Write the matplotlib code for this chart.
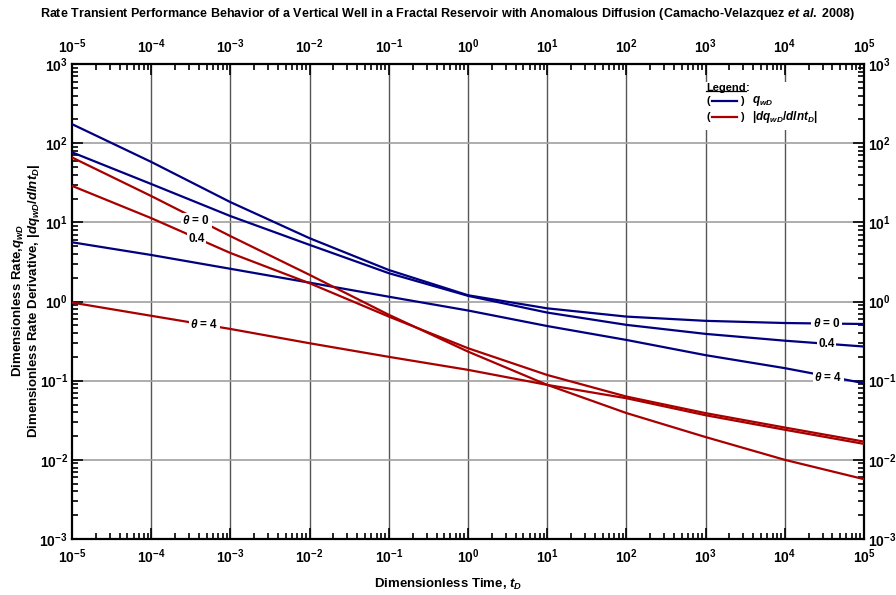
import math
import matplotlib
matplotlib.use("Agg")
import matplotlib.pyplot as plt
from matplotlib.ticker import LogLocator, FuncFormatter, NullFormatter
from matplotlib.patches import Rectangle

plt.rcParams['font.family'] = ['Liberation Sans', 'DejaVu Sans']
plt.rcParams['mathtext.fontset'] = 'custom'
plt.rcParams['mathtext.rm'] = 'Liberation Sans:bold'
plt.rcParams['mathtext.bf'] = 'Liberation Sans:bold'
plt.rcParams['mathtext.it'] = 'Liberation Sans:bold:italic'
plt.rcParams['mathtext.bfit'] = 'Liberation Sans:bold:italic'

# dimensionless time (one point per decade)
t_d = [1e-5, 1e-4, 1e-3, 1e-2, 1e-1, 1e0, 1e1, 1e2, 1e3, 1e4, 1e5]

# dimensionless rate q_wD
q_theta0 = [174, 58, 18, 6.3, 2.5, 1.2, 0.82, 0.645, 0.57, 0.535, 0.52]
q_theta04 = [76.7, 30.5, 12, 5.19, 2.28, 1.18, 0.725, 0.507, 0.39, 0.32, 0.27]
q_theta4 = [5.6, 3.87, 2.59, 1.73, 1.15, 0.77, 0.49, 0.327, 0.21, 0.144, 0.093]

# rate derivative |dq_wD/dln t_D|
d_theta0 = [66, 21.5, 6.7, 2.17, 0.68, 0.233, 0.0885, 0.039, 0.0194, 0.010, 0.0057]
d_theta04 = [28.9, 11.3, 4.1, 1.70, 0.645, 0.257, 0.118, 0.063, 0.0389, 0.0256, 0.017]
d_theta4 = [0.97, 0.66, 0.45, 0.297, 0.20, 0.137, 0.0885, 0.060, 0.0366, 0.024, 0.0159]

blue = '#000080'
red = '#a80000'

fig = plt.figure(figsize=(8.96, 5.95), dpi=100)
ax = fig.add_axes([0.0804, 0.0941, 0.8839, 0.7983])

for q in (q_theta0, q_theta04, q_theta4):
    ax.plot(t_d, q, color=blue, lw=1.6, zorder=4)
for d in (d_theta0, d_theta04, d_theta4):
    ax.plot(t_d, d, color=red, lw=1.6, zorder=4)

ax.set_xscale('log')
ax.set_yscale('log')
ax.set_xlim(1e-5, 1e5)
ax.set_ylim(1e-3, 1e3)

for v in t_d[1:-1]:
    ax.axvline(v, color='#555555', lw=1.0, zorder=1)
for e in range(-2, 3):
    ax.axhline(10.0 ** e, color='#a0a0a0', lw=1.2, zorder=1)

fmt = FuncFormatter(lambda v, p: r'$\mathbf{10^{%d}}$' % round(math.log10(v)))
for axis in (ax.xaxis, ax.yaxis):
    axis.set_major_locator(LogLocator(base=10, numticks=20))
    axis.set_minor_locator(LogLocator(base=10, subs=range(2, 10), numticks=20))
    axis.set_major_formatter(fmt)
    axis.set_minor_formatter(NullFormatter())

ax.tick_params(which='both', direction='in', top=True, right=True,
               labeltop=True, labelright=True, labelsize=10, width=1.2)
ax.tick_params(which='major', length=8, pad=3)
ax.tick_params(which='minor', length=4.5)
ax.tick_params(axis='x', which='major', pad=6)
for s in ax.spines.values():
    s.set_linewidth(1.6)

# curve labels
lab = dict(fontsize=8.5, fontweight='bold', ha='center', va='center', zorder=6,
           bbox=dict(fc='white', ec='none', pad=1.0))
ax.text(10 ** -3.43, 10.5, r'$\mathit{\theta}$ = 0', **lab)
ax.text(10 ** -3.43, 6.1, '0.4', **lab)
ax.text(10 ** -3.33, 0.51, r'$\mathit{\theta}$ = 4', **lab)
ax.text(10 ** 4.53, 0.52, r'$\mathit{\theta}$ = 0', **lab)
ax.text(10 ** 4.53, 0.29, '0.4', **lab)
ax.text(10 ** 4.55, 0.11, r'$\mathit{\theta}$ = 4', **lab)

# legend block
ax.add_patch(Rectangle((0.793, 0.862), 0.183, 0.1, transform=ax.transAxes,
                       fc='white', ec='none', zorder=5))
leg = ax.text(0.8005, 0.95, 'Legend', transform=ax.transAxes, fontsize=8,
              fontweight='bold', va='center', zorder=6)
fig.canvas.draw()
bb = leg.get_window_extent().transformed(ax.transAxes.inverted())
ax.text(bb.x1, 0.95, ':', transform=ax.transAxes, fontsize=8,
        fontweight='bold', va='center', zorder=6)
ax.plot([bb.x0, bb.x1], [bb.y0 + 0.004, bb.y0 + 0.004], color='black', lw=0.9,
        transform=ax.transAxes, zorder=6, clip_on=False)
for yy, c, txt in ((0.922, blue, r'$q_{wD}$'),
                   (0.888, red, r'$|dq_{wD}/dlnt_D|$')):
    ax.text(0.8005, yy, '(', transform=ax.transAxes, fontsize=8,
            fontweight='bold', va='center', zorder=6)
    ax.plot([0.808, 0.840], [yy, yy], color=c, lw=1.6, transform=ax.transAxes,
            zorder=6, clip_on=False)
    ax.text(0.844, yy, ')', transform=ax.transAxes, fontsize=8,
            fontweight='bold', va='center', zorder=6)
    ax.text(0.8586, yy, txt, transform=ax.transAxes, fontsize=8.5, va='center', zorder=6)

fig.text(0.5, 0.977, 'Rate Transient Performance Behavior of a Vertical Well in a Fractal '
         r'Reservoir with Anomalous Diffusion (Camacho-Velazquez $\mathit{et\ al.}$ 2008)',
         ha='center', va='center', fontsize=9, fontweight='bold')
fig.text(0.5, 0.017, r'Dimensionless Time, $t_D$', ha='center', va='center',
         fontsize=9.5, fontweight='bold')
fig.text(0.029, 0.495, r'Dimensionless Rate,$q_{wD}$' + '\n' +
         r'Dimensionless Rate Derivative, $|dq_{wD}/dlnt_D|$',
         ha='center', va='center', rotation=90, fontsize=9.5, fontweight='bold',
         multialignment='center', linespacing=1.0)

fig.savefig('out.png', dpi=100)
